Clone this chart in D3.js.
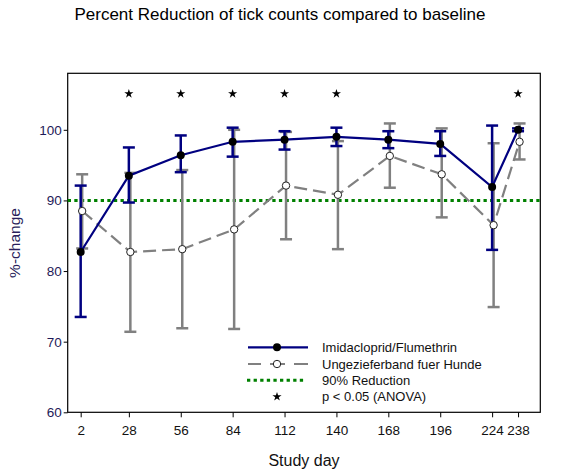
<!DOCTYPE html>
<html><head><meta charset="utf-8">
<script src="https://cdn.jsdelivr.net/npm/d3@7/dist/d3.min.js"></script>
<style>body{margin:0;background:#fff;}svg{display:block;font-family:"Liberation Sans",Arial,sans-serif;}</style>
</head><body>
<svg id="chart" width="568" height="472"></svg>
<script>
const days = [2, 28, 56, 84, 112, 140, 168, 196, 224, 238];
const imiMean = [82.7, 93.5, 96.4, 98.3, 98.6, 99.0, 98.6, 98.0, 91.9, 100.0];
const imiLow  = [73.5, 89.7, 94.0, 96.2, 97.2, 97.7, 97.4, 96.3, 83.0, 99.8];
const imiHigh = [92.1, 97.5, 99.2, 100.3, 99.8, 100.3, 99.8, 99.8, 100.6, 100.2];
const ungMean = [88.5, 82.7, 83.1, 85.9, 92.1, 90.8, 96.3, 93.7, 86.5, 98.3];
const ungLow  = [83.2, 71.4, 71.9, 71.8, 84.5, 83.1, 91.8, 87.6, 74.9, 95.8];
const ungHigh = [93.7, 93.9, 94.3, 100.0, 99.7, 98.4, 100.9, 100.2, 98.1, 100.9];
const sigDays = [28, 56, 84, 112, 140, 238];
const sigLevel = 105.1;
const threshold = 90;
const yTicks = [60, 70, 80, 90, 100];
const xTicks = [2, 28, 56, 84, 112, 140, 168, 196, 224, 238];
const legendLabels = ["Imidacloprid/Flumethrin", "Ungezieferband fuer Hunde", "90% Reduction", "p < 0.05 (ANOVA)"];

const svg = d3.select("#chart");
const L = 67.7, R = 540.3, T = 73.3, B = 412.3;
const x = d3.scaleLinear().domain([-5, 250]).range([L, R]);
const y = d3.scaleLinear().domain([60, 108]).range([B, T]);

const navy = "#000080", gray = "#808080", green = "#008000";

// title
svg.append("text").attr("x", 280).attr("y", 20).attr("text-anchor", "middle")
  .attr("font-size", 17).attr("fill", "#000").text("Percent Reduction of tick counts compared to baseline");

// axes
const yAxis = svg.append("g").attr("transform", `translate(${L},0)`)
  .call(d3.axisLeft(y).tickValues(yTicks).tickSize(4).tickPadding(2));
yAxis.select(".domain").remove();
yAxis.selectAll("text").attr("font-size", 13.5).attr("fill", "#1e1a58").attr("font-family", "Liberation Sans, Arial, sans-serif");
yAxis.selectAll("line").attr("stroke", "#000");

const xAxis = svg.append("g").attr("transform", `translate(0,${B})`)
  .call(d3.axisBottom(x).tickValues(xTicks).tickSize(5).tickPadding(8));
xAxis.select(".domain").remove();
xAxis.selectAll("text").attr("font-size", 13.5).attr("fill", "#111").attr("font-family", "Liberation Sans, Arial, sans-serif");
xAxis.selectAll("line").attr("stroke", "#000");

// frame
svg.append("rect").attr("x", L).attr("y", T).attr("width", R - L).attr("height", B - T)
  .attr("fill", "none").attr("stroke", "#000").attr("stroke-width", 1.2);

// axis titles
svg.append("text").attr("x", 304).attr("y", 466).attr("text-anchor", "middle")
  .attr("font-size", 16).attr("fill", "#111").text("Study day");
svg.append("text").attr("transform", "translate(20,243) rotate(-90)").attr("text-anchor", "middle")
  .attr("font-size", 15.5).attr("fill", "#2a1f5c").text("%-change");

const plot = svg.append("g");

// threshold line
plot.append("line").attr("x1", L).attr("x2", R).attr("y1", y(threshold)).attr("y2", y(threshold))
  .attr("stroke", green).attr("stroke-width", 3).attr("stroke-dasharray", "3.3,3.3");

const cap = 6;
function errBars(low, high, color, dx) {
  const g = plot.append("g").attr("stroke", color).attr("stroke-width", 2.5).attr("fill", "none");
  days.forEach((d, i) => {
    const cx = x(d) + dx;
    g.append("line").attr("x1", cx).attr("x2", cx).attr("y1", y(low[i])).attr("y2", y(high[i]));
    g.append("line").attr("x1", cx - cap).attr("x2", cx + cap).attr("y1", y(low[i])).attr("y2", y(low[i]));
    g.append("line").attr("x1", cx - cap).attr("x2", cx + cap).attr("y1", y(high[i])).attr("y2", y(high[i]));
  });
}
errBars(ungLow, ungHigh, gray, 1.5);
errBars(imiLow, imiHigh, navy, 0);

const lineUng = d3.line().x((d, i) => x(days[i]) + 1.5).y(d => y(d));
const lineImi = d3.line().x((d, i) => x(days[i])).y(d => y(d));
plot.append("path").attr("d", lineUng(ungMean)).attr("fill", "none").attr("stroke", gray)
  .attr("stroke-width", 2.2).attr("stroke-dasharray", "13,6");
plot.append("path").attr("d", lineImi(imiMean)).attr("fill", "none").attr("stroke", navy)
  .attr("stroke-width", 2.2);

plot.selectAll(".mu").data(ungMean).enter().append("circle")
  .attr("cx", (d, i) => x(days[i]) + 1.5).attr("cy", d => y(d)).attr("r", 3.7)
  .attr("fill", "#fff").attr("stroke", "#222").attr("stroke-width", 1);
plot.selectAll(".mi").data(imiMean).enter().append("circle")
  .attr("cx", (d, i) => x(days[i])).attr("cy", d => y(d)).attr("r", 4)
  .attr("fill", "#000").attr("stroke", "none");

const star = d3.symbol().type(d3.symbolStar).size(26);
plot.selectAll(".star").data(sigDays).enter().append("path")
  .attr("d", star).attr("transform", d => `translate(${x(d)},${y(sigLevel)})`).attr("fill", "#000");

// legend
const lx0 = 248, lx1 = 308, lmx = 277, ltx = 322;
const ly = [347.3, 364, 380.3, 396.7];
const lg = svg.append("g");
lg.append("line").attr("x1", lx0).attr("x2", lx1).attr("y1", ly[0]).attr("y2", ly[0])
  .attr("stroke", navy).attr("stroke-width", 2.2);
lg.append("circle").attr("cx", lmx).attr("cy", ly[0]).attr("r", 4).attr("fill", "#000");
lg.append("line").attr("x1", lx0).attr("x2", lx1).attr("y1", ly[1]).attr("y2", ly[1])
  .attr("stroke", gray).attr("stroke-width", 2.2).attr("stroke-dasharray", "13,9,15,9,14");
lg.append("circle").attr("cx", lmx).attr("cy", ly[1]).attr("r", 3.7).attr("fill", "#fff")
  .attr("stroke", "#222").attr("stroke-width", 1);
lg.append("line").attr("x1", lx0 - 1).attr("x2", lx1 - 3).attr("y1", ly[2]).attr("y2", ly[2])
  .attr("stroke", green).attr("stroke-width", 3).attr("stroke-dasharray", "3.3,3.3");
lg.append("path").attr("d", star).attr("transform", `translate(${lmx},${ly[3]})`).attr("fill", "#000");
legendLabels.forEach((t, i) => {
  lg.append("text").attr("x", ltx).attr("y", ly[i] + 4.7).attr("font-size", 13)
    .attr("fill", "#111").text(t);
});
</script>
</body></html>
